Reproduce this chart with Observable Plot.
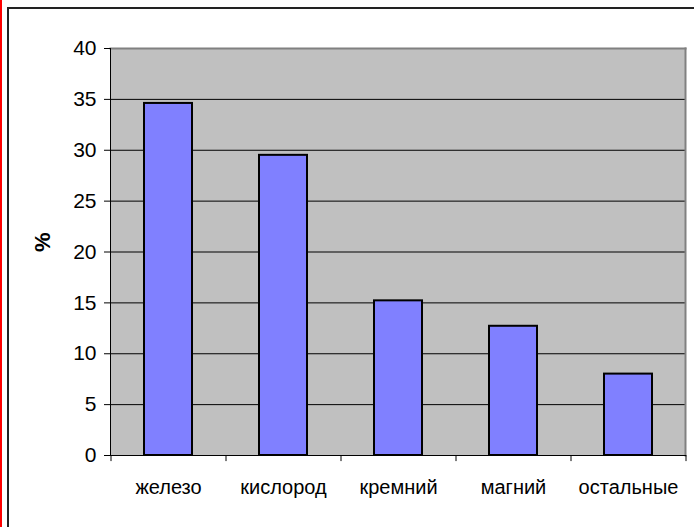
<!DOCTYPE html>
<html>
<head>
<meta charset="utf-8">
<script src="https://cdn.jsdelivr.net/npm/d3@7"></script>
<script src="https://cdn.jsdelivr.net/npm/@observablehq/plot@0.6"></script>
<style>
  html, body { margin: 0; padding: 0; background: white; }
  #wrap { position: relative; width: 698px; height: 527px; overflow: hidden; font-family: "Liberation Sans", Arial, sans-serif; }
  #wrap svg { position: absolute; left: 0; top: 0; }
  .deco { position: absolute; pointer-events: none; }
</style>
</head>
<body>
<div id="wrap"></div>
<script>
const categories = ["железо", "кислород", "кремний", "магний", "остальные"];
const values = [34.6, 29.5, 15.2, 12.7, 8.0];
const yTicks = [0, 5, 10, 15, 20, 25, 30, 35, 40];
const gridLines = [5, 10, 15, 20, 25, 30, 35];
const yLabel = "%";

const data = categories.map((c, i) => ({category: c, value: values[i]}));

const W = 698, H = 527;
const mL = 110, mR = 13, mT = 48, mB = 72;
const step = (W - mL - mR) / categories.length;

const chart = Plot.plot({
  width: W,
  height: H,
  marginLeft: mL,
  marginRight: mR,
  marginTop: mT,
  marginBottom: mB,
  style: {fontFamily: '"Liberation Sans", Arial, sans-serif', background: "transparent", color: "black"},
  x: {domain: categories, paddingInner: 0.583, paddingOuter: 0.2915, label: null},
  y: {domain: [0, 40], label: null},
  marks: [
    Plot.frame({fill: "#c0c0c0", stroke: null}),
    Plot.ruleY(gridLines, {stroke: "black", strokeWidth: 1}),
    Plot.frame({anchor: "top", stroke: "#808080", strokeWidth: 2}),
    Plot.frame({anchor: "right", stroke: "#808080", strokeWidth: 2}),
    Plot.barY(data, {x: "category", y: "value", fill: "#8080ff", stroke: "black", strokeWidth: 2}),
    Plot.frame({anchor: "left", stroke: "black", strokeWidth: 1}),
    Plot.frame({anchor: "bottom", stroke: "black", strokeWidth: 1}),
    Plot.ruleX(categories, {x: d => d, dx: -step / 2, y1: 0, y2: -0.6, stroke: "black"}),
    Plot.ruleX(categories.slice(-1), {x: d => d, dx: step / 2, y1: 0, y2: -0.6, stroke: "black"}),
    Plot.axisY({ticks: yTicks, tickSize: 6, tickPadding: 8, fontSize: 21, label: null, stroke: "black"}),
    Plot.axisX({tickSize: 0, tickPadding: 24, fontSize: 20, label: null}),
    Plot.text([yLabel], {frameAnchor: "left", dx: -68, rotate: -90, fontWeight: "bold", fontSize: 22, fill: "black"})
  ]
});

const wrap = document.getElementById("wrap");
wrap.appendChild(chart);

function deco(left, top, width, height, color) {
  const d = document.createElement("div");
  d.className = "deco";
  Object.assign(d.style, {left: left + "px", top: top + "px", width: width + "px", height: height + "px", background: color});
  wrap.appendChild(d);
}
deco(0, 0, 2, H, "#ff0000");
deco(7, 7, 2, H - 7, "#222222");
deco(7, 7, 687, 2, "#222222");
</script>
</body>
</html>
